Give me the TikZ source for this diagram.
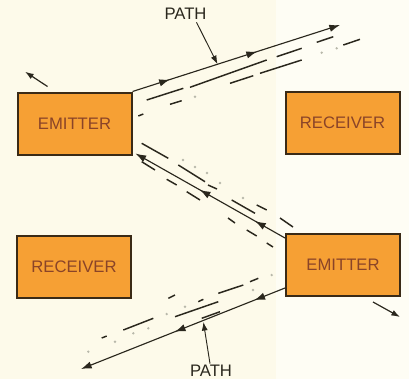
\documentclass[tikz,border=0pt]{standalone}
\usepackage{fontspec}
\newfontfamily\lab{Liberation Sans}
\usetikzlibrary{arrows.meta,calc,decorations.markings}
\definecolor{bgl}{HTML}{FDFAEA}
\definecolor{bgr}{HTML}{FEFDF4}
\definecolor{boxfill}{HTML}{F6A034}
\definecolor{boxline}{HTML}{3A2A16}
\definecolor{boxtext}{HTML}{8A4428}
\definecolor{ink}{HTML}{2A271D}
\definecolor{dotgrey}{HTML}{B8B8AA}
\begin{document}
\begin{tikzpicture}[x=0.75pt,y=-0.75pt,
  box/.style={draw=boxline,line width=1.5pt,fill=boxfill,inner sep=0pt,
    minimum width=85.5pt,minimum height=46.5pt,
    font=\lab\fontsize{12.5}{14}\selectfont,text=boxtext},
  lbl/.style={font=\lab\fontsize{12.5}{14}\selectfont,text=ink,inner sep=1pt},
  mainline/.style={color=ink,line width=0.85pt,-{Latex[length=8pt,width=5.5pt]}},
  midarr/.style 2 args={postaction={decorate,decoration={markings,
    mark=at position #1 with {\arrow{Latex[length=8pt,width=5.5pt]}},
    mark=at position #2 with {\arrow{Latex[length=8pt,width=5.5pt]}}}}},
  ptr/.style={color=ink,line width=0.7pt,-{Latex[length=6.5pt,width=4.5pt]}},
  dsh/.style={draw=ink,line width=1.1pt},
  gdot/.style={fill=dotgrey,draw=none}]
\fill[bgl] (0,0) rectangle (276,379);
\fill[bgr] (276,0) rectangle (409,379);
\useasboundingbox (0,0) rectangle (409,379);

% boxes
\node[box] (E1) at (74.5,123.5) {EMITTER};
\node[box] (R1) at (342.5,122.5) {RECEIVER};
\node[box] (R2) at (74,266.5) {RECEIVER};
\node[box] (E2) at (343,265) {EMITTER};

% labels
\node[lbl] (P1) at (185.5,14) {PATH};
\node[lbl] (P2) at (211,371) {PATH};

% free ends
\coordinate (t1) at (340,25);
\coordinate (b1) at (81,369);
\coordinate (ul) at (25,71.7);
\coordinate (dr) at (400,317);

% main paths
\draw[mainline,midarr={0.18}{0.6}] (E1.north east) -- (t1);
\draw[mainline,midarr={0.2}{0.57}] ($(E2.north west)+(0,5)$) -- ($(E1.south east)+(3,-2)$);
\draw[mainline,midarr={0.15}{0.54}] ($(E2.south west)+(0,-9)$) -- (b1);

% PATH pointers
\draw[ptr] ($(P1.south)+(11,1)$) -- ($(E1.north east)!0.41!(t1)$);
\draw[ptr] ($(P2.north)+(-1,0)$) -- ($($(E2.south west)+(0,-9)$)!0.40!(b1)+(0,1.5)$);

% corner arrows
\draw[ptr,line width=0.9pt] ($(E1.north west)+(31,-5)$) -- (ul);
\draw[ptr,line width=0.9pt] ($(E2.south east)+(-28,5)$) -- (dr);

% top path: dashed companions
\draw[dsh] (146.7,100) -- (183.3,88.3);
\draw[dsh] (190,87.3) -- (266.7,60);
\draw[dsh] (276.7,56.7) -- (301.7,48.3);
\draw[dsh] (316.7,42.3) -- (333.3,36.7);
\draw[dsh] (138.3,116) -- (143.3,114);
\draw[dsh] (170,104.3) -- (181.7,100.7);
\draw[dsh] (230,83.3) -- (253.3,75.7);
\draw[dsh] (260,73.3) -- (301.7,60);
\draw[dsh] (343.3,45) -- (360,39.3);
\foreach \p in {(195,96.7),(321.7,52.7),(336.7,48.3)} \fill[gdot] \p circle (1.3);

% middle path: dashed companions
\draw[dsh] (141.7,143.3) -- (168.3,158.3);
\draw[dsh] (178.3,165) -- (205,181.7);
\draw[dsh] (208,185) -- (217,189);
\draw[dsh] (231.7,200) -- (255,213.3);
\draw[dsh] (256.7,205) -- (266.7,210);
\draw[dsh] (280,218) -- (293,227);
\draw[dsh] (141.7,161.7) -- (155,170);
\draw[dsh] (166.7,179.3) -- (176.7,185);
\draw[dsh] (186.7,191.7) -- (200,200);
\draw[dsh] (228,218) -- (235,223);
\draw[dsh] (246.7,230) -- (256.7,236);
\draw[dsh] (266.7,243) -- (273,247);
\foreach \p in {(183,160),(195,167),(207,173),(220,183),(243,198)} \fill[gdot] \p circle (1.3);

% bottom path: dashed companions
\draw[dsh] (201.7,318.3) -- (220,311.7);
\draw[dsh] (175,316.7) -- (218.3,301.7);
\draw[dsh] (101.7,338) -- (106.7,336);
\draw[dsh] (123.3,330) -- (153.3,318.3);
\draw[dsh] (198.3,301.7) -- (203.3,299.3);
\draw[dsh] (218.3,293.3) -- (243.3,285);
\draw[dsh] (250,281.7) -- (258.3,278.3);
\draw[dsh] (168.3,298.3) -- (175,295);
\foreach \p in {(88.3,351.7),(115,341.7),(133.3,333.3),(148.3,328.3),(166.7,314),(185,306.7),(253,290),(271.7,275)} \fill[gdot] \p circle (1.3);
\end{tikzpicture}
\end{document}
